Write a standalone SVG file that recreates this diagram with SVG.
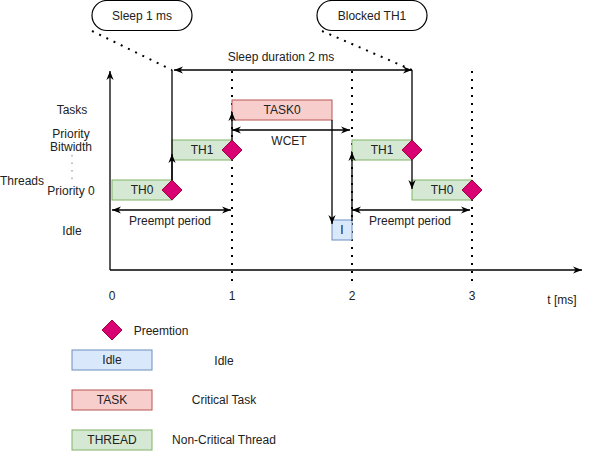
<svg xmlns="http://www.w3.org/2000/svg" width="591" height="452" viewBox="0 0 591 452">
<style>
text{font-family:"Liberation Sans",Arial,sans-serif;font-size:12px;fill:#222;text-anchor:middle;dominant-baseline:central}
.ln{stroke:#000;stroke-width:1.3;fill:none}
.dot{stroke:#000;stroke-width:2;fill:none;stroke-dasharray:2 6}
.gdot{stroke:#aaa;stroke-width:1.5;fill:none;stroke-dasharray:1.5 6}
.thr{fill:#d5e8d4;stroke:#82b366}
.tsk{fill:#f8cecc;stroke:#b85450}
.idl{fill:#dae8fc;stroke:#6c8ebf}
.pre{fill:#d80073;stroke:#a50040}
.bub{fill:#fff;stroke:#000;stroke-width:1.2}
.ar{marker-end:url(#a)}
.ar2{marker-start:url(#a);marker-end:url(#a)}
</style>
<defs>
<marker id="a" viewBox="0 0 10 10" refX="10" refY="5" markerWidth="9" markerHeight="9" markerUnits="userSpaceOnUse" orient="auto-start-reverse">
<path d="M0,1 L10,5 L0,9 L3,5 z" fill="#000"/>
</marker>
</defs>
<rect width="591" height="452" fill="#fff"/>

<g id="labels">
<text x="72" y="110">Tasks</text>
<text x="71" y="134">Priority</text>
<text x="71" y="147">Bitwidth</text>
<text x="22" y="181">Threads</text>
<text x="71" y="191">Priority 0</text>
<text x="72" y="231">Idle</text>
<path class="gdot" d="M72,155 V180"/>
<text x="112" y="296">0</text>
<text x="232" y="296">1</text>
<text x="352" y="296">2</text>
<text x="472" y="296">3</text>
<text x="562" y="300">t [ms]</text>
<text x="281" y="57">Sleep duration 2 ms</text>
<text x="289" y="141">WCET</text>
<text x="170" y="221">Preempt period</text>
<text x="410" y="221">Preempt period</text>
</g>

<g id="gridlines">
<path class="dot" d="M232,71 V284"/>
<path class="dot" d="M352,71 V284"/>
<path class="dot" d="M472,71 V284"/>
</g>

<g id="sleep-bubble">
<rect class="bub" x="92" y="0.5" width="100" height="30" rx="15"/>
<text x="142" y="16">Sleep 1 ms</text>
</g>
<g id="blocked-bubble">
<rect class="bub" x="317" y="0.5" width="110" height="30" rx="15"/>
<text x="372" y="16">Blocked TH1</text>
</g>

<g id="th0-a"><rect class="thr" x="112" y="180" width="60" height="20"/><text x="142" y="190">TH0</text></g>
<g id="th1-a"><rect class="thr" x="172" y="140" width="60" height="20"/><text x="202" y="150">TH1</text></g>
<g id="task0"><rect class="tsk" x="232" y="100" width="100" height="20"/><text x="282" y="110">TASK0</text></g>
<g id="idle"><rect class="idl" x="332" y="220" width="20" height="20"/><text x="342" y="230">I</text></g>
<g id="th1-b"><rect class="thr" x="352" y="140" width="60" height="20"/><text x="382" y="150">TH1</text></g>
<g id="th0-b"><rect class="thr" x="412" y="180" width="60" height="20"/><text x="442" y="190">TH0</text></g>

<g id="connectors">
<path class="ln ar" d="M110,270 V71"/>
<path class="ln ar" d="M110,270 H582"/>
<path class="dot" d="M92,31 L172,70"/>
<path class="dot" d="M322,31 L412,70"/>
<path class="ln" d="M172,180 V70"/>
<path class="ln" d="M412,140 V70"/>
<path class="ln ar2" d="M174,70 H412"/>
<path class="ln ar" d="M172,180 V154"/>
<path class="ln ar" d="M232,140 V112"/>
<path class="ln ar2" d="M232,130 H350"/>
<path class="ln ar" d="M332,120 V224"/>
<path class="ln ar" d="M352,221 V152"/>
<path class="ln ar" d="M412,160 V189"/>
<path class="ln ar2" d="M112,210 H231"/>
<path class="ln ar2" d="M352,210 H470"/>
</g>

<g id="preempt-a"><polygon class="pre" points="172,180 182,190 172,200 162,190"/></g>
<g id="preempt-b"><polygon class="pre" points="232,140 242,150 232,160 222,150"/></g>
<g id="preempt-c"><polygon class="pre" points="412,140 422,150 412,160 402,150"/></g>
<g id="preempt-d"><polygon class="pre" points="472,180 482,190 472,200 462,190"/></g>

<g id="legend">
<polygon class="pre" points="112,320 122,330 112,340 102,330"/>
<text x="161" y="331">Preemtion</text>
<rect class="idl" x="72" y="350" width="80" height="20"/><text x="112" y="360">Idle</text>
<text x="224" y="361">Idle</text>
<rect class="tsk" x="72" y="390" width="80" height="20"/><text x="112" y="400">TASK</text>
<text x="224" y="400">Critical Task</text>
<rect class="thr" x="72" y="430" width="80" height="20"/><text x="112" y="440">THREAD</text>
<text x="224" y="440">Non-Critical Thread</text>
</g>
</svg>
